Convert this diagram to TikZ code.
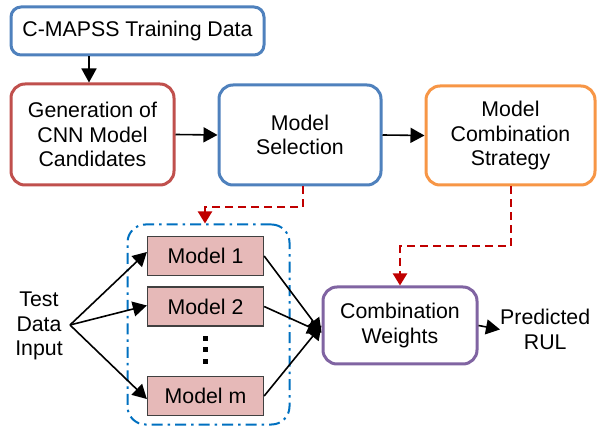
\documentclass[tikz,border=0pt]{standalone}
\usepackage{fontspec}
\setmainfont{Liberation Sans}
\usetikzlibrary{arrows.meta,calc}
\definecolor{cblue}{RGB}{79,129,189}
\definecolor{cred}{RGB}{192,80,77}
\definecolor{corange}{RGB}{247,150,70}
\definecolor{cpurple}{RGB}{128,100,162}
\definecolor{cmodel}{RGB}{230,185,184}
\definecolor{cdash}{RGB}{192,0,0}
\definecolor{cgroup}{RGB}{0,112,192}
\begin{document}
\begin{tikzpicture}[x=1pt,y=-1pt,
  every node/.style={font=\fontsize{21.3}{24.5}\selectfont, align=center, inner sep=0pt},
  bigbox/.style={draw, line width=3pt, rounded corners=14pt, fill=white},
  modelbox/.style={draw=black!75, line width=1.3pt, fill=cmodel, minimum width=116pt, minimum height=39pt},
  arr/.style={line width=1.6pt, -{Triangle[length=14pt,width=15pt]}},
  redarr/.style={draw=cdash, line width=2pt, dash pattern=on 8pt off 5pt, -{Triangle[length=12pt,width=14pt]}, cdash}
]
\useasboundingbox (0,0) rectangle (608,430);

\node[bigbox, draw=cblue, rounded corners=10pt, minimum width=253pt, minimum height=48pt] (train) at (137.5,31) {C-MAPSS Training Data};
\node[bigbox, draw=cred, minimum width=163pt, minimum height=101pt] (gen) at (92.5,134.5) {Generation of\\CNN Model\\Candidates};
\node[bigbox, draw=cblue, minimum width=162pt, minimum height=100pt] (sel) at (300,135) {Model\\Selection};
\node[bigbox, draw=corange, minimum width=169pt, minimum height=99pt] (strat) at (510.5,135.5) {Model\\Combination\\Strategy};

\node[draw=cgroup, line width=2pt, rounded corners=18pt, dash pattern=on 11pt off 5pt on 2.5pt off 5pt, minimum width=162pt, minimum height=200pt] (grp) at (208.5,324.5) {};

\node[modelbox] (m1) at (205.5,256) {Model 1};
\node[modelbox] (m2) at (205.5,306.5) {Model 2};
\node[modelbox] (mm) at (205.5,396) {Model m};
\fill (203,336) rectangle (207.5,341);
\fill (203,347.5) rectangle (207.5,352.5);
\fill (203,359) rectangle (207.5,364);

\node (test) at (39,326) {Test\\Data\\Input};
\coordinate (tin) at (70,325);

\node[bigbox, draw=cpurple, minimum width=154pt, minimum height=77pt] (comb) at (400,325.5) {Combination\\Weights};
\node[anchor=west] (pred) at (500,329.5) {Predicted\\RUL};

\draw[arr] (train.south -| 89,0) -- (gen.north -| 89,0);
\draw[arr] (gen.east) -- (sel.west);
\draw[arr] (sel.east) -- (strat.west);

\draw[arr] (tin) -- ([yshift=4pt]m1.west);
\draw[arr] (tin) -- ([yshift=1pt]m2.west);
\draw[arr] (tin) -- ([yshift=-3pt]mm.west);

\draw[arr] (m1.east) -- ([yshift=-7pt]comb.west);
\draw[arr] (m2.east) -- ([yshift=-7pt]comb.west);
\draw[arr] (mm.east) -- ([yshift=0pt]comb.west);

\draw[arr] (comb.east) -- (pred.west);

\draw[redarr] ([xshift=3pt]sel.south) -- ++(0,21) -| ([xshift=-3.5pt]grp.north);
\draw[redarr] (strat.south) -- ++(0,60) -| (comb.north);
\end{tikzpicture}
\end{document}
